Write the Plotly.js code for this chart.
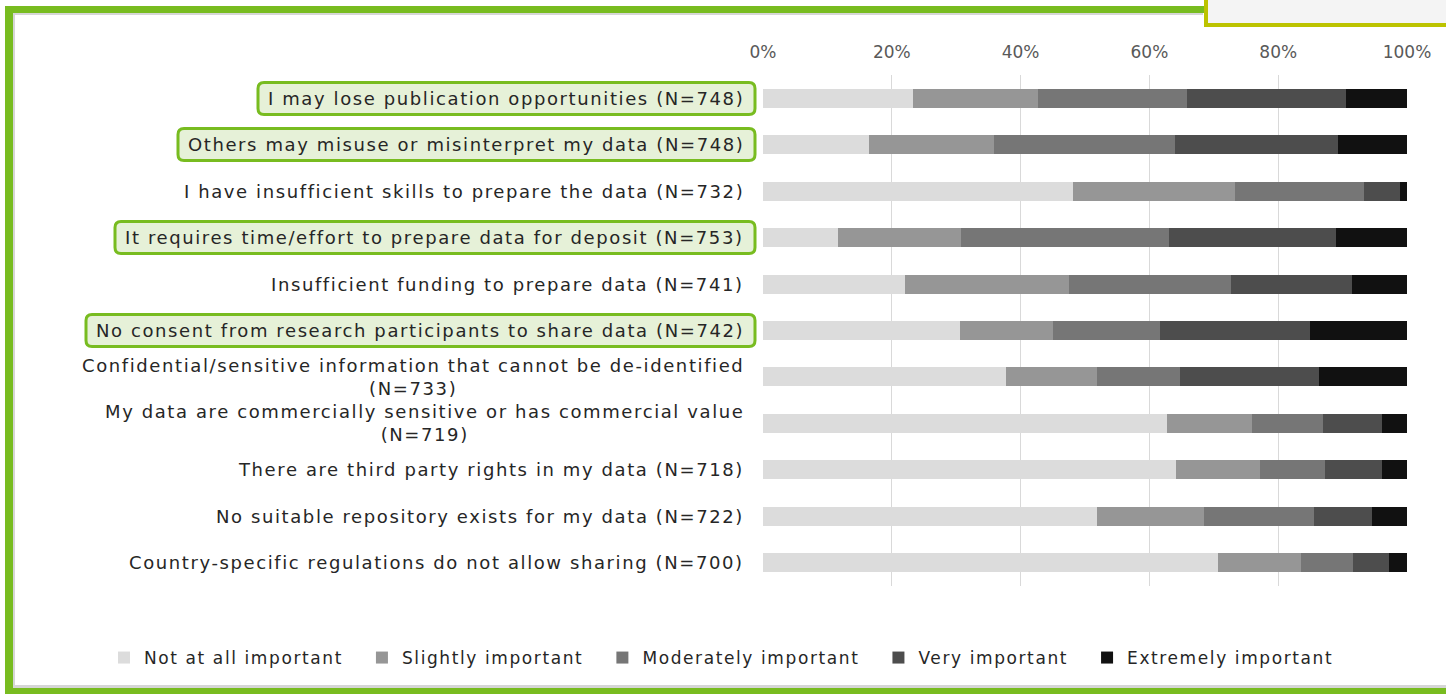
<!DOCTYPE html>
<html>
<head>
<meta charset="utf-8">
<script src="https://cdn.plot.ly/plotly-3.0.1.min.js"></script>
<style>
  html, body { margin: 0; padding: 0; background: #ffffff; }
  #chart { width: 1446px; height: 694px; }
  .annotation-text { letter-spacing: 1.6px; }
  .legendtext { letter-spacing: 1.6px; }
</style>
</head>
<body>
<div id="chart"></div>
<script>
// ---------- data ----------
const categories = [
  "I may lose publication opportunities (N=748)",
  "Others may misuse or misinterpret my data (N=748)",
  "I have insufficient skills to prepare the data (N=732)",
  "It requires time/effort to prepare data for deposit (N=753)",
  "Insufficient funding to prepare data (N=741)",
  "No consent from research participants to share data (N=742)",
  "Confidential/sensitive information that cannot be de-identified<br>(N=733)",
  "My data are commercially sensitive or has commercial value<br>(N=719)",
  "There are third party rights in my data (N=718)",
  "No suitable repository exists for my data (N=722)",
  "Country-specific regulations do not allow sharing (N=700)"
];
const seriesNames = ["Not at all important", "Slightly important", "Moderately important", "Very important", "Extremely important"];
const notAtAll   = [23.3, 16.4, 48.2, 11.6, 22.0, 30.6, 37.7, 62.8, 64.2, 51.8, 70.6];
const slightly   = [19.4, 19.5, 25.1, 19.2, 25.5, 14.5, 14.1, 13.2, 13.0, 16.6, 12.9];
const moderately = [23.2, 28.1, 20.0, 32.2, 25.1, 16.5, 13.0, 10.9, 10.1, 17.1,  8.1];
const very       = [24.6, 25.3,  5.6, 25.9, 18.9, 23.4, 21.6,  9.2,  8.8,  9.0,  5.6];
const extremely  = [ 9.5, 10.7,  1.1, 11.1,  8.5, 15.0, 13.6,  3.9,  3.9,  5.5,  2.8];
const highlighted = [0, 1, 3, 5];

// ---------- styling ----------
const seriesColors = ["#dcdcdc", "#969696", "#767676", "#4d4d4d", "#111111"];
const FONT = "DejaVu Sans, Verdana, sans-serif";
const GREEN = "#78bc20";
const W = 1446, H = 694;
const M = { l: 763, r: 39, t: 75, b: 108 };
const PW = W - M.l - M.r, PH = H - M.t - M.b;
const px2x = px => (px - M.l) / PW;
const px2y = py => 1 - (py - M.t) / PH;
const LEGEND_PAD = "\u00a0\u00a0";

function rectPx(x0, y0, x1, y1, fill, lineColor, lineWidth, layer) {
  return {
    type: "rect", xref: "paper", yref: "paper",
    x0: px2x(x0), x1: px2x(x1), y0: px2y(y0), y1: px2y(y1),
    fillcolor: fill,
    line: { color: lineColor || fill, width: lineWidth || 0 },
    layer: layer || "above"
  };
}

const frameShapes = [
  rectPx(13, 13, 1203, 15, "#d6d6d6"),
  rectPx(13, 13, 15, 687, "#d6d6d6"),
  rectPx(13, 685, 1446, 688, "#d6d6d6"),
  rectPx(5, 6, 1205, 13, GREEN),
  rectPx(5, 6, 13, 694, GREEN),
  rectPx(5, 688, 1446, 694, GREEN),
  rectPx(1206, -10, 1470, 25, "#f4f4f4", "#bcc300", 4)
];

const seriesData = [notAtAll, slightly, moderately, very, extremely];
const traces = seriesData.map((vals, i) => ({
  type: "bar",
  orientation: "h",
  name: seriesNames[i] + (i < seriesNames.length - 1 ? LEGEND_PAD : ""),
  x: vals,
  y: categories,
  marker: { color: seriesColors[i], line: { width: 0 } },
  hoverinfo: "skip"
}));

const annotations = categories.map(c => ({
  xref: "paper", x: 0, xanchor: "right", xshift: -17,
  yref: "y", y: c, yanchor: "middle",
  text: c, showarrow: false, align: "center",
  font: { family: FONT, size: 18, color: "#262626" }
}));

const layout = {
  width: W, height: H,
  margin: M,
  paper_bgcolor: "#ffffff",
  plot_bgcolor: "#ffffff",
  barmode: "stack",
  bargap: 0.59,
  showlegend: true,
  legend: {
    orientation: "h",
    x: px2x(104), xanchor: "left",
    y: px2y(658), yanchor: "middle",
    font: { family: FONT, size: 17, color: "#262626" },
    traceorder: "normal",
    itemclick: false, itemdoubleclick: false,
    bgcolor: "rgba(0,0,0,0)"
  },
  xaxis: {
    side: "top",
    range: [0, 100],
    dtick: 20,
    tick0: 0,
    ticksuffix: "%",
    showgrid: true,
    gridcolor: "#d9d9d9",
    gridwidth: 1,
    zeroline: false,
    showline: false,
    ticks: "",
    ticklabelstandoff: 13,
    tickfont: { family: FONT, size: 17, color: "#595959" },
    fixedrange: true
  },
  yaxis: {
    type: "category",
    categoryorder: "array",
    categoryarray: categories,
    autorange: "reversed",
    showticklabels: false,
    showgrid: false,
    zeroline: false,
    ticks: "",
    fixedrange: true
  },
  annotations: annotations,
  shapes: frameShapes
};

const gd = document.getElementById("chart");
Plotly.newPlot(gd, traces, layout, { displayModeBar: false, staticPlot: true }).then(() => {
  const base = gd.getBoundingClientRect();
  const boxes = [];
  highlighted.forEach(idx => {
    const t = gd.querySelector('.annotation[data-index="' + idx + '"] .annotation-text');
    if (!t) return;
    const r = t.getBoundingClientRect();
    const left = r.left - base.left - 10;
    const right = M.l - 8;
    const cy = (r.top + r.bottom) / 2 - base.top;
    const top = cy - 16, bot = cy + 16;
    const rx = 6, ry = 6;
    const X = px2x, Y = px2y;
    const path =
      "M" + X(left + rx) + "," + Y(top) +
      " L" + X(right - rx) + "," + Y(top) +
      " Q" + X(right) + "," + Y(top) + " " + X(right) + "," + Y(top + ry) +
      " L" + X(right) + "," + Y(bot - ry) +
      " Q" + X(right) + "," + Y(bot) + " " + X(right - rx) + "," + Y(bot) +
      " L" + X(left + rx) + "," + Y(bot) +
      " Q" + X(left) + "," + Y(bot) + " " + X(left) + "," + Y(bot - ry) +
      " L" + X(left) + "," + Y(top + ry) +
      " Q" + X(left) + "," + Y(top) + " " + X(left + rx) + "," + Y(top) + " Z";
    boxes.push({
      type: "path", xref: "paper", yref: "paper", path: path,
      fillcolor: "#e6f1d8", line: { color: GREEN, width: 3 }, layer: "below"
    });
  });
  return Plotly.relayout(gd, { shapes: frameShapes.concat(boxes) });
});
</script>
</body>
</html>
